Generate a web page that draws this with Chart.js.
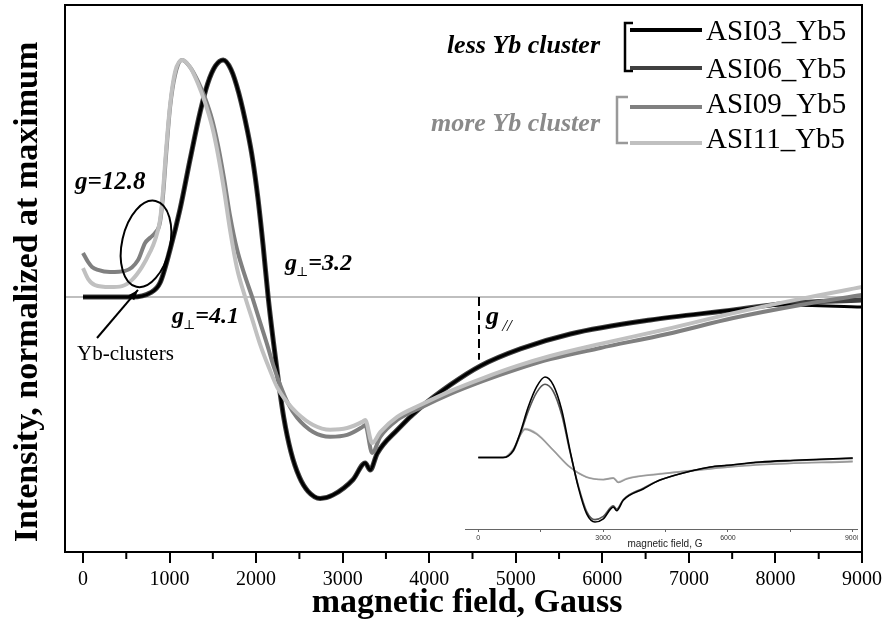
<!DOCTYPE html>
<html>
<head>
<meta charset="utf-8">
<title>EPR spectra ASI Yb5</title>
<script src="https://cdn.jsdelivr.net/npm/chart.js@4.4.0/dist/chart.umd.min.js"></script>
<style>
  body { margin: 0; background: #fff; }
  #wrap { position: relative; width: 885px; height: 624px; background: #fff; }
  #main { position: absolute; left: 0; top: 0; }
  #inset { position: absolute; left: 465px; top: 370px; }
</style>
</head>
<body>
<div id="wrap">
  <canvas id="main" width="885" height="624"></canvas>
  <canvas id="inset" width="393" height="185"></canvas>
</div>
<script>
// ---- data (field in Gauss, intensity normalized at maximum) ----
const fieldDark = [0, 300, 566, 775, 890, 1006, 1121, 1237, 1353, 1440, 1530, 1620, 1710, 1800, 1900, 1960, 2020, 2080, 2139, 2200, 2260, 2320, 2400, 2500, 2600, 2740, 2890, 3121, 3260, 3318, 3399, 3630, 3896, 4243, 4590, 5052, 5630, 6555, 7514, 8092, 9000];
const asi03 = [0, 0, 0, 0.017, 0.06, 0.20, 0.37, 0.58, 0.78, 0.90, 0.975, 1.0, 0.96, 0.86, 0.70, 0.58, 0.42, 0.22, 0, -0.19, -0.36, -0.51, -0.65, -0.76, -0.82, -0.85, -0.835, -0.77, -0.70, -0.73, -0.66, -0.561, -0.468, -0.371, -0.291, -0.219, -0.156, -0.097, -0.055, -0.034, -0.042];
const asi06 = [0, 0, 0, 0.017, 0.06, 0.20, 0.37, 0.58, 0.78, 0.90, 0.975, 1.0, 0.96, 0.86, 0.70, 0.58, 0.42, 0.22, 0, -0.19, -0.36, -0.51, -0.65, -0.76, -0.82, -0.85, -0.835, -0.77, -0.70, -0.73, -0.66, -0.561, -0.468, -0.371, -0.291, -0.219, -0.156, -0.097, -0.055, -0.028, -0.013];

const fieldAsi09 = [0, 58, 104, 173, 312, 486, 636, 717, 775, 832, 890, 925, 960, 1006, 1064, 1145, 1237, 1329, 1410, 1491, 1560, 1630, 1700, 1780, 1870, 1954, 2040, 2127, 2200, 2277, 2370, 2474, 2659, 2855, 3052, 3225, 3260, 3341, 3434, 3630, 3896, 4243, 4624, 5017, 5399, 5977, 6751, 7514, 8289, 9000];
const asi09 = [0.186, 0.148, 0.127, 0.114, 0.105, 0.11, 0.156, 0.228, 0.25, 0.27, 0.316, 0.43, 0.6, 0.80, 0.937, 1.0, 0.97, 0.91, 0.84, 0.75, 0.64, 0.50, 0.34, 0.20, 0.09, 0, -0.10, -0.20, -0.29, -0.37, -0.45, -0.51, -0.57, -0.59, -0.582, -0.549, -0.54, -0.658, -0.59, -0.519, -0.468, -0.409, -0.354, -0.304, -0.262, -0.215, -0.156, -0.089, -0.034, 0.008];

const fieldAsi11 = [0, 60, 139, 312, 451, 566, 682, 775, 832, 890, 925, 960, 1006, 1064, 1145, 1237, 1329, 1410, 1491, 1560, 1630, 1700, 1780, 1873, 1960, 2046, 2150, 2243, 2350, 2474, 2659, 2855, 3052, 3225, 3260, 3341, 3434, 3630, 3896, 4243, 4624, 5017, 5399, 5977, 6751, 7514, 8289, 9000];
const asi11 = [0.122, 0.075, 0.05, 0.042, 0.046, 0.072, 0.127, 0.19, 0.24, 0.325, 0.45, 0.62, 0.81, 0.95, 1.0, 0.97, 0.90, 0.82, 0.72, 0.60, 0.45, 0.28, 0.12, 0, -0.10, -0.20, -0.30, -0.38, -0.44, -0.49, -0.54, -0.56, -0.553, -0.527, -0.519, -0.616, -0.57, -0.506, -0.456, -0.397, -0.342, -0.291, -0.249, -0.198, -0.135, -0.068, -0.008, 0.042];

// inset (raw spectra)
const insetFieldDark = [0, 594, 841, 1002, 1202, 1404, 1603, 1803, 2005, 2204, 2404, 2606, 2805, 3005, 3245, 3327, 3486, 3966, 4368, 5168, 5570, 5971, 6772, 7574, 9000];
const insetAsi03 = [0, 0, 0.09, 0.30, 0.63, 0.88, 1.0, 0.90, 0.59, 0.09, -0.37, -0.70, -0.80, -0.76, -0.615, -0.66, -0.53, -0.39, -0.28, -0.16, -0.117, -0.096, -0.055, -0.034, -0.005];
const insetAsi06 = [0, 0, 0.08, 0.28, 0.58, 0.81, 0.91, 0.82, 0.53, 0.07, -0.35, -0.67, -0.77, -0.73, -0.60, -0.64, -0.52, -0.38, -0.28, -0.16, -0.12, -0.10, -0.06, -0.04, -0.01];
const insetFieldLight = [0, 594, 841, 1002, 1122, 1404, 1803, 2204, 2606, 3005, 3245, 3365, 3565, 4368, 5570, 6772, 9000];
const insetAsi09 = [0, 0, 0.10, 0.27, 0.35, 0.29, 0.09, -0.12, -0.245, -0.275, -0.255, -0.31, -0.265, -0.205, -0.14, -0.09, -0.05];
const insetAsi11 = [0, 0, 0.11, 0.28, 0.36, 0.30, 0.09, -0.12, -0.24, -0.27, -0.25, -0.30, -0.26, -0.20, -0.137, -0.087, -0.042];

const xTicks = [0, 1000, 2000, 3000, 4000, 5000, 6000, 7000, 8000, 9000];
const xMinorTicks = [500, 1500, 2500, 3500, 4500, 5500, 6500, 7500, 8500];
const insetTicks = [0, 1500, 3000, 4500, 6000, 7500, 9000];

const seriesNames = ['ASI03_Yb5', 'ASI06_Yb5', 'ASI09_Yb5', 'ASI11_Yb5'];
const seriesColors = ['#000000', '#404040', '#808080', '#c0c0c0'];

const SERIF = '"Liberation Serif", "DejaVu Serif", serif';
const SANS = '"Liberation Sans", Arial, sans-serif';

function toPoints(xs, ys) {
    return xs.map((x, i) => ({ x: x, y: ys[i] }));
}

// draw "g" with a small subscript, then the rest of the label
function drawG(ctx, x, y, sub, rest, size, subFont, subDy) {
    ctx.font = `italic bold ${size}px ${SERIF}`;
    ctx.fillText('g', x, y);
    let cx = x + ctx.measureText('g').width;
    ctx.font = subFont;
    ctx.fillText(sub, cx - 1, y + subDy);
    cx += ctx.measureText(sub).width - 1;
    if (rest) {
        ctx.font = `italic bold ${size}px ${SERIF}`;
        ctx.fillText(rest, cx, y);
    }
}

// Annotations, frame, legend and axis titles for the main chart
const mainDecor = {
    id: 'mainDecor',
    beforeDatasetsDraw(chart) {
        const { ctx, chartArea, scales } = chart;
        const y0 = scales.y.getPixelForValue(0);
        ctx.save();
        ctx.strokeStyle = '#808080';
        ctx.lineWidth = 1.2;
        ctx.beginPath();
        ctx.moveTo(chartArea.left, y0);
        ctx.lineTo(chartArea.right, y0);
        ctx.stroke();
        ctx.restore();
    },
    afterDraw(chart) {
        const { ctx, chartArea, scales } = chart;
        const px = v => scales.x.getPixelForValue(v);
        const py = v => scales.y.getPixelForValue(v);
        ctx.save();

        // frame
        ctx.strokeStyle = '#000';
        ctx.lineWidth = 2;
        ctx.strokeRect(chartArea.left, chartArea.top, chartArea.right - chartArea.left, chartArea.bottom - chartArea.top);

        // minor ticks
        ctx.beginPath();
        xMinorTicks.forEach(v => {
            ctx.moveTo(px(v), chartArea.bottom);
            ctx.lineTo(px(v), chartArea.bottom + 7);
        });
        ctx.stroke();

        // axis titles
        ctx.fillStyle = '#000';
        ctx.font = `bold 34px ${SERIF}`;
        ctx.textAlign = 'center';
        ctx.textBaseline = 'middle';
        ctx.fillText('magnetic field, Gauss', 467, 603);
        ctx.save();
        ctx.translate(28, 292);
        ctx.rotate(-Math.PI / 2);
        ctx.font = `bold 34px ${SERIF}`;
        ctx.fillText('Intensity, normalized at maximum', 0, 0);
        ctx.restore();

        ctx.textAlign = 'left';
        ctx.textBaseline = 'alphabetic';

        // g labels
        ctx.font = `italic bold 25px ${SERIF}`;
        ctx.fillText('g=12.8', px(-92), py(0.456));
        drawG(ctx, px(1028), py(-0.11), '\u22A5', '=4.1', 24, `13px ${SERIF}`, 6);
        drawG(ctx, px(2334), py(0.114), '\u22A5', '=3.2', 24, `13px ${SERIF}`, 6);
        drawG(ctx, px(4656), py(-0.114), ' //', '', 26, `italic 17px ${SERIF}`, 7);

        // dashed marker for g//
        ctx.setLineDash([9, 5]);
        ctx.lineWidth = 2;
        ctx.beginPath();
        ctx.moveTo(px(4575), py(0));
        ctx.lineTo(px(4575), py(-0.265));
        ctx.stroke();
        ctx.setLineDash([]);

        // ellipse around g=12.8 feature
        ctx.lineWidth = 2;
        ctx.beginPath();
        ctx.ellipse(px(728), py(0.224), 24, 44, 0.22, 0, Math.PI * 2);
        ctx.stroke();

        // arrow to Yb-clusters feature
        const ax0 = px(162), ay0 = py(-0.173), ax1 = px(635), ay1 = py(0.03);
        ctx.beginPath();
        ctx.moveTo(ax0, ay0);
        ctx.lineTo(ax1, ay1);
        ctx.stroke();
        const ang = Math.atan2(ay1 - ay0, ax1 - ax0);
        ctx.beginPath();
        ctx.moveTo(ax1, ay1);
        ctx.lineTo(ax1 - 11 * Math.cos(ang - 0.35), ay1 - 11 * Math.sin(ang - 0.35));
        ctx.lineTo(ax1 - 11 * Math.cos(ang + 0.35), ay1 - 11 * Math.sin(ang + 0.35));
        ctx.closePath();
        ctx.fill();

        ctx.font = `21px ${SERIF}`;
        ctx.fillText('Yb-clusters', px(-69), py(-0.266));

        // legend with brackets
        ctx.textAlign = 'right';
        ctx.font = `italic bold 26px ${SERIF}`;
        ctx.fillStyle = '#000';
        ctx.fillText('less Yb cluster', 600, 53);
        ctx.fillStyle = '#8a8a8a';
        ctx.fillText('more Yb cluster', 600, 131);

        ctx.lineWidth = 2.5;
        ctx.strokeStyle = '#000';
        ctx.beginPath();
        ctx.moveTo(633, 23); ctx.lineTo(625, 23); ctx.lineTo(625, 71); ctx.lineTo(633, 71);
        ctx.stroke();
        ctx.strokeStyle = '#999';
        ctx.beginPath();
        ctx.moveTo(628, 97); ctx.lineTo(617, 97); ctx.lineTo(617, 143); ctx.lineTo(628, 143);
        ctx.stroke();

        const lineY = [30, 68, 107, 143];
        const textY = [40, 78, 113, 148];
        ctx.textAlign = 'left';
        ctx.font = `29px ${SERIF}`;
        seriesNames.forEach((name, i) => {
            ctx.strokeStyle = seriesColors[i];
            ctx.lineWidth = 4;
            ctx.beginPath();
            ctx.moveTo(630, lineY[i]);
            ctx.lineTo(702, lineY[i]);
            ctx.stroke();
            ctx.fillStyle = '#000';
            ctx.fillText(name, 706, textY[i]);
        });
        ctx.restore();
    }
};

function mainDataset(label, xs, ys, color, width) {
    return {
        label: label,
        data: toPoints(xs, ys),
        borderColor: color,
        borderWidth: width,
        pointRadius: 0,
        fill: false,
        cubicInterpolationMode: 'monotone'
    };
}

// first dataset in the list is painted on top
new Chart(document.getElementById('main').getContext('2d'), {
    type: 'line',
    data: {
        datasets: [
            mainDataset(seriesNames[3], fieldAsi11, asi11, seriesColors[3], 4),
            mainDataset(seriesNames[2], fieldAsi09, asi09, seriesColors[2], 4),
            mainDataset(seriesNames[0], fieldDark, asi03, seriesColors[0], 3),
            mainDataset(seriesNames[1], fieldDark, asi06, seriesColors[1], 5)
        ]
    },
    options: {
        responsive: false,
        animation: false,
        events: [],
        layout: { padding: { top: 5, right: 23, left: 0, bottom: 0 } },
        plugins: { legend: { display: false }, tooltip: { enabled: false } },
        scales: {
            x: {
                type: 'linear',
                min: -208,
                max: 9000,
                afterBuildTicks: s => { s.ticks = xTicks.map(v => ({ value: v })); },
                afterFit: s => { s.height = 72; s.paddingLeft = 0; s.paddingRight = 0; },
                ticks: {
                    autoSkip: false,
                    maxRotation: 0,
                    padding: 5,
                    color: '#000',
                    font: { family: SERIF, size: 20 },
                    callback: v => String(v)
                },
                grid: { drawOnChartArea: false, drawTicks: true, tickLength: 11, color: '#000', lineWidth: 2 },
                border: { display: true, color: '#000', width: 2 }
            },
            y: {
                min: -1.076,
                max: 1.232,
                afterFit: s => { s.width = 65; },
                ticks: { display: false },
                grid: { display: false },
                border: { display: true, color: '#000', width: 2 }
            }
        }
    },
    plugins: [mainDecor]
});

// ---- inset ----
const insetDecor = {
    id: 'insetDecor',
    afterDraw(chart) {
        const { ctx } = chart;
        ctx.save();
        ctx.fillStyle = '#222';
        ctx.font = `10px ${SANS}`;
        ctx.textAlign = 'center';
        ctx.textBaseline = 'middle';
        ctx.fillText('magnetic field, G', 200, 174);
        ctx.restore();
    }
};

function insetDataset(label, xs, ys, color) {
    return {
        label: label,
        data: toPoints(xs, ys),
        borderColor: color,
        borderWidth: 1.6,
        pointRadius: 0,
        fill: false,
        cubicInterpolationMode: 'monotone'
    };
}

new Chart(document.getElementById('inset').getContext('2d'), {
    type: 'line',
    data: {
        datasets: [
            insetDataset(seriesNames[0], insetFieldDark, insetAsi03, '#000000'),
            insetDataset(seriesNames[1], insetFieldDark, insetAsi06, '#555555'),
            insetDataset(seriesNames[2], insetFieldLight, insetAsi09, '#999999'),
            insetDataset(seriesNames[3], insetFieldLight, insetAsi11, '#c8c8c8')
        ]
    },
    options: {
        responsive: false,
        animation: false,
        events: [],
        layout: { padding: 0 },
        plugins: { legend: { display: false }, tooltip: { enabled: false } },
        scales: {
            x: {
                type: 'linear',
                min: -320,
                max: 9127,
                afterBuildTicks: s => { s.ticks = insetTicks.map(v => ({ value: v })); },
                afterFit: s => { s.height = 26; s.paddingLeft = 0; s.paddingRight = 0; },
                ticks: {
                    autoSkip: false,
                    maxRotation: 0,
                    padding: 2,
                    color: '#333',
                    font: { family: SANS, size: 7 },
                    callback: v => (v % 3000 === 0 ? String(v) : '')
                },
                grid: { drawOnChartArea: false, drawTicks: true, tickLength: 3, color: '#666', lineWidth: 1 },
                border: { display: true, color: '#666', width: 1 }
            },
            y: {
                display: false,
                min: -0.887,
                max: 1.087
            }
        }
    },
    plugins: [insetDecor]
});
</script>
</body>
</html>
